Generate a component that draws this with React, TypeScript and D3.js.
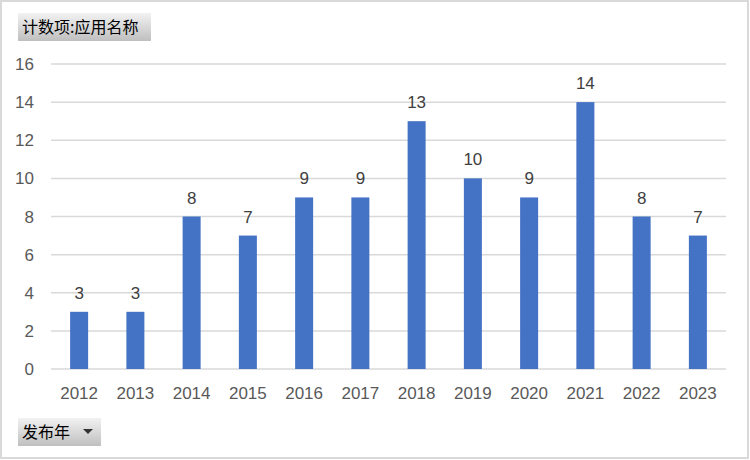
import React from "react";
import * as d3 from "d3";

const years = ["2012","2013","2014","2015","2016","2017","2018","2019","2020","2021","2022","2023"];
const counts = [3,3,8,7,9,9,13,10,9,14,8,7];
const yTicks = [0,2,4,6,8,10,12,14,16];
const titleLabel = "计数项:应用名称";
const fieldLabel = "发布年";

export default function App() {
  const W = 750, H = 460;
  const left = 51, right = 726, top = 64, bottom = 369;
  const x = d3.scaleBand<string>().domain(years).range([left, right]).paddingInner(0.68).paddingOuter(0.34);
  const y = d3.scaleLinear().domain([0, 16]).range([bottom, top]);
  const cjk = "'Noto Sans CJK SC', sans-serif";
  const num = "'Liberation Sans', 'DejaVu Sans', sans-serif";
  return (
    <svg width={W} height={H} style={{ position: "absolute", left: 0, top: 0 }} fontFamily={num}>
      <defs>
        <linearGradient id="btn" x1="0" y1="0" x2="0" y2="1">
          <stop offset="0" stopColor="#f2f2f2" />
          <stop offset="1" stopColor="#bfbfbf" />
        </linearGradient>
      </defs>
      <rect x={0} y={0} width={W} height={H} fill="#ffffff" />
      <rect x={1} y={1} width={747} height={457} fill="none" stroke="#d9d9d9" strokeWidth={2} />
      {yTicks.map(t => (
        <g key={t}>
          <line x1={left} x2={right} y1={y(t)} y2={y(t)} stroke="#d9d9d9" strokeWidth={1.5} />
          <text x={34} y={y(t)} dy="0.36em" textAnchor="end" fontSize={17} fill="#595959">{t}</text>
        </g>
      ))}
      {years.map((yr, i) => (
        <g key={yr}>
          <rect x={x(yr)!} y={y(counts[i])} width={x.bandwidth()} height={bottom - y(counts[i])} fill="#4472c4" />
          <text x={x(yr)! + x.bandwidth() / 2} y={y(counts[i]) - 13} textAnchor="middle" fontSize={17} fill="#404040">{counts[i]}</text>
          <text x={x(yr)! + x.bandwidth() / 2} y={399} textAnchor="middle" fontSize={17} fill="#595959">{yr}</text>
        </g>
      ))}
      <rect x={18} y={13} width={133} height={28} fill="url(#btn)" />
      <text x={22} y={33} fontSize={16} fill="#000" fontFamily={cjk}>{titleLabel}</text>
      <rect x={18} y={418} width={83} height={28} fill="url(#btn)" />
      <text x={22} y={438} fontSize={16} fill="#000" fontFamily={cjk}>{fieldLabel}</text>
      <path d="M83,429 L93,429 L88,434 Z" fill="#333" />
    </svg>
  );
}
